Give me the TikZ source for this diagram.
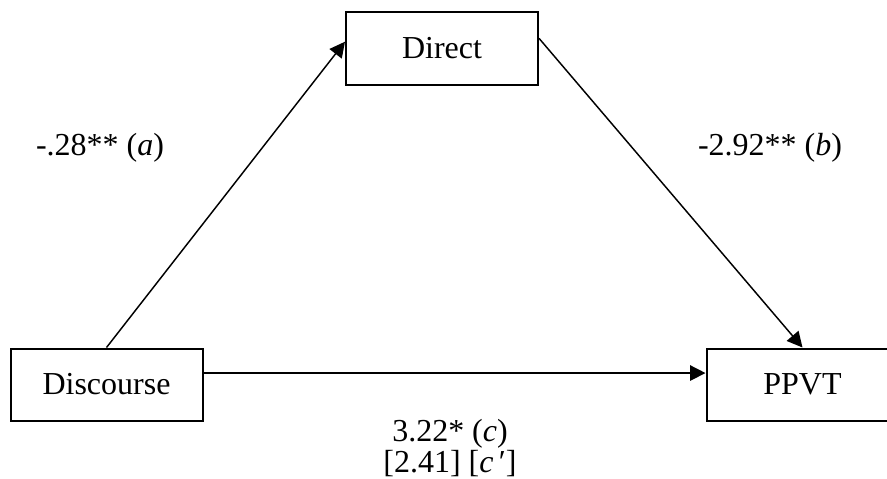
\documentclass[tikz,border=0pt]{standalone}
\usepackage{fontspec}
\setmainfont{Liberation Serif}
\usetikzlibrary{arrows.meta, positioning}
\tikzset{
    var/.style={
        rectangle, draw=black, line width=1.5pt,
        minimum width=144pt, minimum height=54pt,
        font=\fontsize{24}{28}\selectfont, inner sep=0pt
    },
    coef/.style={
        font=\fontsize{24}{21}\selectfont, align=center, inner sep=0pt
    },
    arrow/.style={-{Triangle[length=11.5pt,width=11.5pt]}, line width=1.1pt, draw=black}
}
\begin{document}
\begin{tikzpicture}[x=0.75pt, y=-0.75pt]
    \useasboundingbox (0,0) rectangle (887,478);
    \node[var] (d) at (442,48.5) {Direct};
    \node[var] (disc) at (106.5,384.5) {Discourse};
    \node[var] (ppvt) at (802.5,384.5) {PPVT};

    \node[coef] (a) at (100,148) {-.28** (\textit{a})};
    \node[coef] (b) at (770,148) {-2.92** (\textit{b})};
    \node[coef] (c) at (450,448) {3.22* (\textit{c})\\{}[2.41] [\textit{c}\,′]};

    \draw[arrow] (disc.north) -- (d.176);
    \draw[arrow] (d.6) -- (ppvt.north);
    \draw[arrow] ([yshift=8.6pt]disc.east) -- ([yshift=8.6pt]ppvt.west);
\end{tikzpicture}
\end{document}
